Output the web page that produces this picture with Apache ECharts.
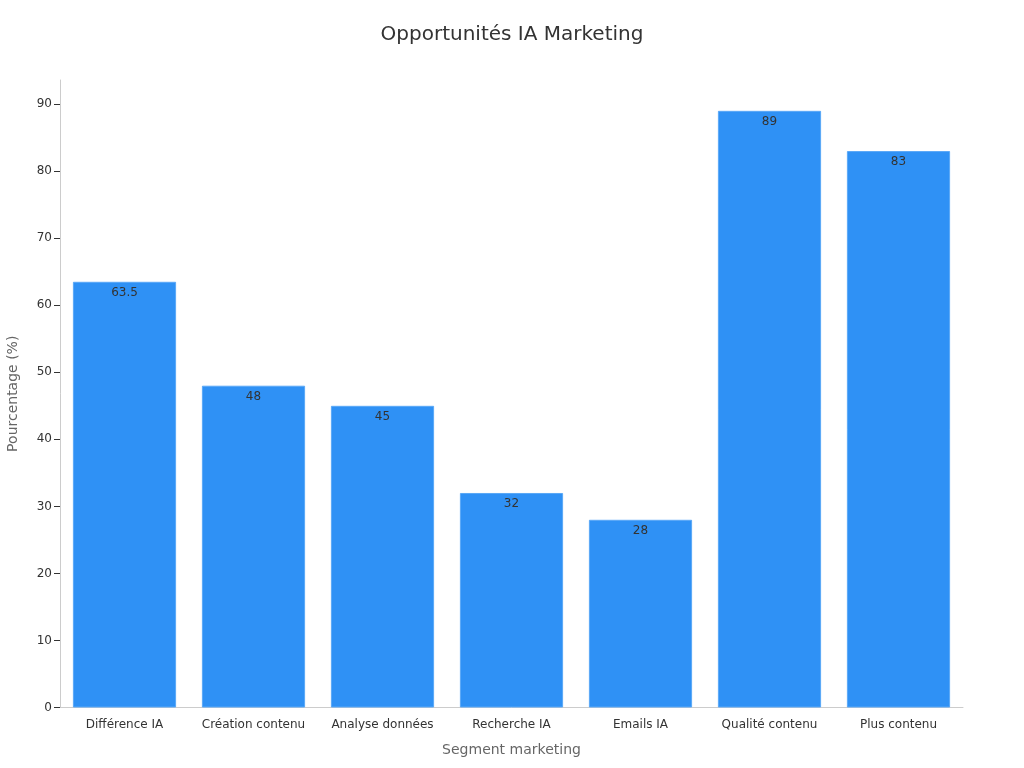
<!DOCTYPE html>
<html><head><meta charset="utf-8">
<script src="https://cdn.jsdelivr.net/npm/echarts@6/dist/echarts.min.js"></script>
<style>html,body{margin:0;padding:0;background:#fff}#c{width:1024px;height:768px}</style>
</head><body><div id="c"></div>
<script>
const categories = ['Différence IA','Création contenu','Analyse données','Recherche IA','Emails IA','Qualité contenu','Plus contenu'];
const values = [63.5, 48, 45, 32, 28, 89, 83];
const chart = echarts.init(document.getElementById('c'));
chart.setOption({
  textStyle:{fontFamily:'DejaVu Sans'},
  title:{text:'Opportunités IA Marketing',left:'center',top:20,textStyle:{fontSize:20,fontWeight:'normal',color:'#333',fontFamily:'DejaVu Sans'}},
  grid:{left:60,right:61,top:80,bottom:60.5,containLabel:false,outerBoundsMode:'none'},
  xAxis:{type:'category',data:categories,name:'Segment marketing',nameLocation:'middle',nameGap:36,
    nameTextStyle:{fontSize:14,color:'#666'},
    axisLine:{lineStyle:{color:'#ccc'}},axisTick:{alignWithLabel:true,lineStyle:{color:'#333'}},
    axisLabel:{color:'#333',fontSize:12,margin:11,interval:0}},
  yAxis:{type:'value',min:0,max:93.6,interval:10,name:'Pourcentage (%)',nameLocation:'middle',nameGap:40,
    nameTextStyle:{fontSize:14,color:'#666'},
    axisLine:{show:true,lineStyle:{color:'#ccc'}},axisTick:{show:true,length:6,lineStyle:{color:'#333'}},
    splitLine:{show:false},axisLabel:{color:'#333',fontSize:12,showMaxLabel:false}},
  series:[{type:'bar',data:values,barWidth:'80%',
    itemStyle:{color:'#2f91f5',borderColor:'#5aa8f7',borderWidth:1},
    label:{show:true,position:'insideTop',color:'#333',fontSize:12}}]
});
</script></body></html>
